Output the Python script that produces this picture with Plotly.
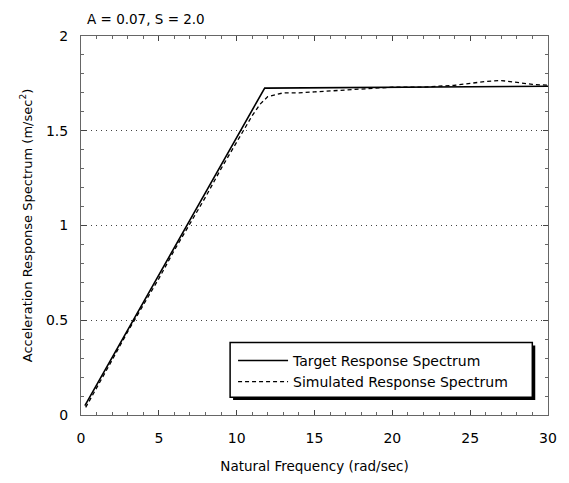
import plotly.graph_objects as go

# Data
target_freq = [0.25, 11.8, 30]
target_acc = [0.05, 1.725, 1.735]

sim_freq = [0.3, 1, 2, 3, 4, 5, 6, 7, 8, 9, 10, 11, 11.5, 12, 13, 14, 15, 16,
            17, 18, 19, 20, 21, 22, 23, 24, 25, 26, 27, 28, 29, 30]
sim_acc = [0.04, 0.14, 0.29, 0.44, 0.58, 0.72, 0.87, 1.01, 1.15, 1.30, 1.44,
           1.58, 1.64, 1.68, 1.70, 1.70, 1.705, 1.71, 1.715, 1.72, 1.725, 1.73,
           1.73, 1.73, 1.735, 1.74, 1.75, 1.76, 1.765, 1.755, 1.745, 1.74]

y_ticks = [0, 0.5, 1, 1.5, 2]
y_labels = ["0", "0.5", "1", "1.5", "2"]
x_ticks = [0, 5, 10, 15, 20, 25, 30]

FONT = "'DejaVu Sans', Arial, sans-serif"

fig = go.Figure()
fig.add_trace(go.Scatter(x=target_freq, y=target_acc, mode="lines",
                         name="Target Response Spectrum",
                         line=dict(color="black", width=1.6)))
fig.add_trace(go.Scatter(x=sim_freq, y=sim_acc, mode="lines",
                         name="Simulated Response Spectrum",
                         line=dict(color="black", width=1.3, dash="4px,3px")))

# legend frame with drop shadow (paper coordinates)
fig.add_shape(type="rect", xref="paper", yref="paper", layer="above",
              x0=0.3256, x1=0.9727, y0=0.0393, y1=0.1832,
              fillcolor="black", line=dict(width=0))
fig.add_shape(type="rect", xref="paper", yref="paper", layer="above",
              x0=0.3193, x1=0.9664, y0=0.0471, y1=0.1911,
              fillcolor="white", line=dict(color="black", width=1.5))

fig.update_layout(
    width=569, height=483,
    margin=dict(l=81, r=12, t=36, b=65),
    paper_bgcolor="white", plot_bgcolor="white",
    font=dict(family=FONT, size=12, color="black"),
    showlegend=True,
    legend=dict(x=0.3256, y=0.185, xanchor="left", yanchor="top",
                borderwidth=0, bgcolor="rgba(0,0,0,0)",
                font=dict(size=14), tracegroupgap=0, itemwidth=50),
    xaxis=dict(range=[0, 30], tickvals=x_ticks, showgrid=False, zeroline=False,
               showline=True, linecolor="#666", linewidth=1, mirror="ticks",
               ticks="inside", ticklen=5, tickcolor="#444",
               minor=dict(dtick=1, ticks="inside", ticklen=3, tickcolor="#666"),
               tickfont=dict(size=14), ticklabelstandoff=10,
               title=dict(text="Natural Frequency (rad/sec)", font=dict(size=13.5), standoff=16)),
    yaxis=dict(range=[0, 2], tickvals=y_ticks, ticktext=y_labels,
               showgrid=True, gridcolor="#444", griddash="1px,4px", gridwidth=1,
               zeroline=False, showline=True, linecolor="#666", linewidth=1,
               mirror="ticks", ticks="inside", ticklen=5, tickcolor="#444",
               minor=dict(dtick=0.1, ticks="inside", ticklen=3, tickcolor="#666", showgrid=False),
               tickfont=dict(size=14), ticklabelstandoff=9,
               title=dict(text="Acceleration Response Spectrum (m/sec<sup>2</sup>)",
                          font=dict(size=13), standoff=10)),
    annotations=[dict(text="A = 0.07, S = 2.0", xref="paper", yref="paper",
                      x=0.008, y=1.0, xanchor="left", yanchor="bottom", yshift=7,
                      showarrow=False, font=dict(size=13.5))],
)

fig.write_html("out.html")
